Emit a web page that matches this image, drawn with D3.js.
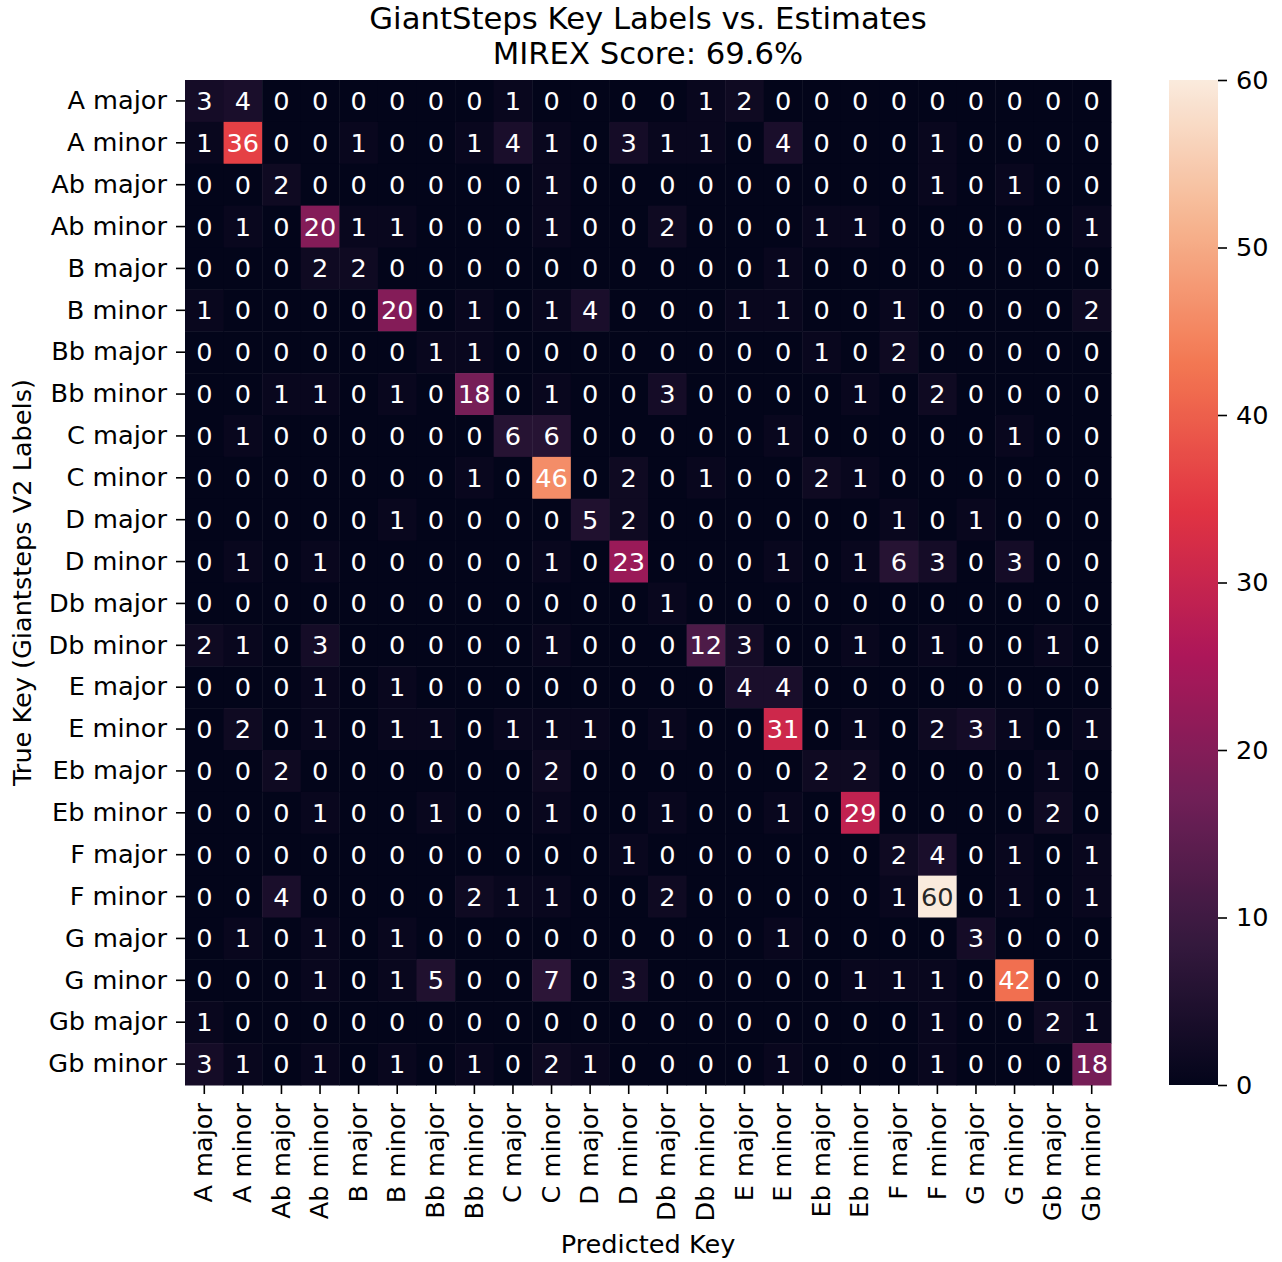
<!DOCTYPE html>
<html>
<head>
<meta charset="utf-8">
<script src="https://cdn.jsdelivr.net/npm/d3@7"></script>
<style>
  html, body { margin: 0; padding: 0; background: #fff; }
  svg { display: block; font-family: "DejaVu Sans", sans-serif; }
</style>
</head>
<body>
<svg id="chart" width="1282" height="1262"></svg>
<script>
const keys = ["A major","A minor","Ab major","Ab minor","B major","B minor","Bb major","Bb minor",
  "C major","C minor","D major","D minor","Db major","Db minor","E major","E minor",
  "Eb major","Eb minor","F major","F minor","G major","G minor","Gb major","Gb minor"];

// rows = true key, columns = predicted key
const counts = [
  [3,4,0,0,0,0,0,0,1,0,0,0,0,1,2,0,0,0,0,0,0,0,0,0],
  [1,36,0,0,1,0,0,1,4,1,0,3,1,1,0,4,0,0,0,1,0,0,0,0],
  [0,0,2,0,0,0,0,0,0,1,0,0,0,0,0,0,0,0,0,1,0,1,0,0],
  [0,1,0,20,1,1,0,0,0,1,0,0,2,0,0,0,1,1,0,0,0,0,0,1],
  [0,0,0,2,2,0,0,0,0,0,0,0,0,0,0,1,0,0,0,0,0,0,0,0],
  [1,0,0,0,0,20,0,1,0,1,4,0,0,0,1,1,0,0,1,0,0,0,0,2],
  [0,0,0,0,0,0,1,1,0,0,0,0,0,0,0,0,1,0,2,0,0,0,0,0],
  [0,0,1,1,0,1,0,18,0,1,0,0,3,0,0,0,0,1,0,2,0,0,0,0],
  [0,1,0,0,0,0,0,0,6,6,0,0,0,0,0,1,0,0,0,0,0,1,0,0],
  [0,0,0,0,0,0,0,1,0,46,0,2,0,1,0,0,2,1,0,0,0,0,0,0],
  [0,0,0,0,0,1,0,0,0,0,5,2,0,0,0,0,0,0,1,0,1,0,0,0],
  [0,1,0,1,0,0,0,0,0,1,0,23,0,0,0,1,0,1,6,3,0,3,0,0],
  [0,0,0,0,0,0,0,0,0,0,0,0,1,0,0,0,0,0,0,0,0,0,0,0],
  [2,1,0,3,0,0,0,0,0,1,0,0,0,12,3,0,0,1,0,1,0,0,1,0],
  [0,0,0,1,0,1,0,0,0,0,0,0,0,0,4,4,0,0,0,0,0,0,0,0],
  [0,2,0,1,0,1,1,0,1,1,1,0,1,0,0,31,0,1,0,2,3,1,0,1],
  [0,0,2,0,0,0,0,0,0,2,0,0,0,0,0,0,2,2,0,0,0,0,1,0],
  [0,0,0,1,0,0,1,0,0,1,0,0,1,0,0,1,0,29,0,0,0,0,2,0],
  [0,0,0,0,0,0,0,0,0,0,0,1,0,0,0,0,0,0,2,4,0,1,0,1],
  [0,0,4,0,0,0,0,2,1,1,0,0,2,0,0,0,0,0,1,60,0,1,0,1],
  [0,1,0,1,0,1,0,0,0,0,0,0,0,0,0,1,0,0,0,0,3,0,0,0],
  [0,0,0,1,0,1,5,0,0,7,0,3,0,0,0,0,0,1,1,1,0,42,0,0],
  [1,0,0,0,0,0,0,0,0,0,0,0,0,0,0,0,0,0,0,1,0,0,2,1],
  [3,1,0,1,0,1,0,1,0,2,1,0,0,0,0,1,0,0,0,1,0,0,0,18]
];

const colorbarTicks = [0,10,20,30,40,50,60];
const titleLines = ["GiantSteps Key Labels vs. Estimates", "MIREX Score: 69.6%"];
const xLabel = "Predicted Key";
const yLabel = "True Key (Giantsteps V2 Labels)";

// rocket colormap stops
const rocketPos = [0, 1/7, 2/7, 3/7, 4/7, 5/7, 6/7, 1];
const rocketHex = ["#03051a","#35193e","#701f57","#ad1759","#e13342","#f37651","#f6b48f","#faebdd"];

(function () {
const svg = d3.select("#chart");
const L = 185, R = 1111, T = 80, B = 1085;
const fs = 25.6;

const vmax = d3.max(counts.flat());
const color = d3.scaleLinear()
  .domain(rocketPos.map(p => p * vmax))
  .range(rocketHex)
  .interpolate(d3.interpolateRgb)
  .clamp(true);

const x = d3.scaleBand().domain(keys).range([L, R]).padding(0);
const y = d3.scaleBand().domain(keys).range([T, B]).padding(0);

function lum(c) {
  const rgb = d3.rgb(c);
  const f = v => { v /= 255; return v <= 0.03928 ? v / 12.92 : Math.pow((v + 0.055) / 1.055, 2.4); };
  return 0.2126 * f(rgb.r) + 0.7152 * f(rgb.g) + 0.0722 * f(rgb.b);
}

const cells = [];
counts.forEach((row, i) => row.forEach((v, j) => cells.push({r: keys[i], c: keys[j], v})));

const g = svg.append("g");
g.selectAll("rect.cell").data(cells).join("rect")
  .attr("class", "cell")
  .attr("x", d => x(d.c))
  .attr("y", d => y(d.r))
  .attr("width", x.bandwidth() + 0.5)
  .attr("height", y.bandwidth() + 0.5)
  .attr("fill", d => color(d.v));

g.selectAll("text.annot").data(cells).join("text")
  .attr("class", "annot")
  .attr("x", d => x(d.c) + x.bandwidth() / 2)
  .attr("y", d => y(d.r) + y.bandwidth() / 2)
  .attr("text-anchor", "middle")
  .attr("dominant-baseline", "central")
  .attr("font-size", fs)
  .attr("fill", d => lum(color(d.v)) > 0.408 ? "#262626" : "#ffffff")
  .text(d => d.v);

// axes
const yAxis = d3.axisLeft(y).tickSize(9).tickPadding(9);
const yg = svg.append("g").attr("transform", `translate(${L},0)`).call(yAxis);
yg.select(".domain").remove();
yg.selectAll(".tick line").attr("stroke", "#000").attr("stroke-width", 1.6);
yg.selectAll(".tick text").attr("font-size", fs).attr("font-family", "DejaVu Sans").attr("fill", "#000");

const xAxis = d3.axisBottom(x).tickSize(9).tickPadding(9);
const xg = svg.append("g").attr("transform", `translate(0,${B})`).call(xAxis);
xg.select(".domain").remove();
xg.selectAll(".tick line").attr("stroke", "#000").attr("stroke-width", 1.6);
xg.selectAll(".tick text")
  .attr("font-size", fs).attr("font-family", "DejaVu Sans").attr("fill", "#000")
  .attr("transform", "rotate(-90)")
  .attr("x", -18).attr("y", 0).attr("dy", "0.32em")
  .attr("text-anchor", "end");

// titles
svg.append("text").attr("x", (L + R) / 2).attr("y", 29)
  .attr("text-anchor", "middle").attr("font-size", 30.7).attr("fill", "#000").text(titleLines[0]);
svg.append("text").attr("x", (L + R) / 2).attr("y", 64)
  .attr("text-anchor", "middle").attr("font-size", 30.7).attr("fill", "#000").text(titleLines[1]);

svg.append("text").attr("x", (L + R) / 2).attr("y", 1253)
  .attr("text-anchor", "middle").attr("font-size", fs).attr("fill", "#000").text(xLabel);
svg.append("text")
  .attr("transform", `translate(31,${(T + B) / 2}) rotate(-90)`)
  .attr("text-anchor", "middle").attr("font-size", fs).attr("fill", "#000").text(yLabel);

// colorbar
const cbX = 1169, cbW = 49;
const cbScale = d3.scaleLinear().domain([0, vmax]).range([B, T]);
const defs = svg.append("defs");
const grad = defs.append("linearGradient").attr("id", "cbgrad")
  .attr("x1", 0).attr("y1", 1).attr("x2", 0).attr("y2", 0);
d3.range(0, 101).forEach(k => {
  grad.append("stop").attr("offset", (k / 100)).attr("stop-color", color(k / 100 * vmax));
});
svg.append("rect").attr("x", cbX).attr("y", T).attr("width", cbW).attr("height", B - T)
  .attr("fill", "url(#cbgrad)");
const cbAxis = d3.axisRight(cbScale).tickValues(colorbarTicks).tickSize(9).tickPadding(9);
const cg = svg.append("g").attr("transform", `translate(${cbX + cbW},0)`).call(cbAxis);
cg.select(".domain").remove();
cg.selectAll(".tick line").attr("stroke", "#000").attr("stroke-width", 1.6);
cg.selectAll(".tick text").attr("font-size", fs).attr("font-family", "DejaVu Sans").attr("fill", "#000");
})();
</script>
</body>
</html>
